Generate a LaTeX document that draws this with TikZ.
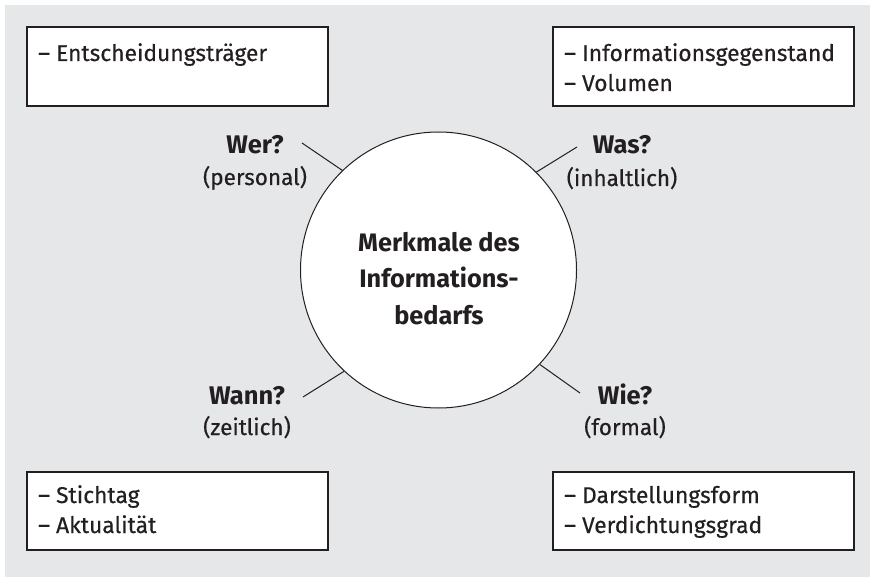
\documentclass[tikz,border=0pt]{standalone}
\usepackage{fontspec}
\setmainfont{Fira Sans}
\newfontfamily\txtfont{Fira Sans}[FakeBold=0.4]
\definecolor{bg}{HTML}{E6E7E9}
\definecolor{ink}{HTML}{231F20}
\begin{document}
\begin{tikzpicture}[x=1pt,y=-1pt,
  infobox/.style={draw=ink,line width=1.3pt,fill=white},
  boxtext/.style={anchor=base west,inner sep=0pt,font=\txtfont\fontsize{22.8}{30}\selectfont,text=ink},
  qhead/.style={anchor=base,inner sep=0pt,text=ink,font=\fontsize{25.5}{30}\selectfont\bfseries},
  qsub/.style={anchor=base,inner sep=0pt,text=ink,font=\txtfont\fontsize{22.5}{30}\selectfont},
  ctext/.style={anchor=base,inner sep=0pt,text=ink,font=\fontsize{25.3}{30}\selectfont\bfseries},
  spoke/.style={draw=ink,line width=1pt}]
\useasboundingbox (0,0) rectangle (870,577);
\fill[bg] (5,5) rectangle (870,577);
% boxes
\draw[infobox] (27,27) rectangle (328,106);
\draw[infobox] (553,27) rectangle (854,106);
\draw[infobox] (27,472) rectangle (328,550);
\draw[infobox] (553,472) rectangle (854,550);
\node[boxtext] (tl1) at (38,61) {– Entscheidungsträger};
\node[boxtext] (tr1) at (564,61) {– Informationsgegenstand};
\node[boxtext] (tr2) at (564,91) {– Volumen};
\node[boxtext] (bl1) at (38,503) {– Stichtag};
\node[boxtext] (bl2) at (38,533) {– Aktualität};
\node[boxtext] (br1) at (564,503) {– Darstellungsform};
\node[boxtext] (br2) at (564,533) {– Verdichtungsgrad};
% circle
\node[circle,draw=ink,line width=1pt,fill=white,minimum size=276pt,inner sep=0pt] (c) at (438.5,270) {};
\node[ctext] (ct1) at (439,252) {Merkmale des};
\node[ctext] (ct2) at (439,288) {Informations-};
\node[ctext] (ct3) at (439,324) {bedarfs};
% labels
\node[qhead] (wer) at (255,154) {Wer?};
\node[qsub] (wers) at (255,185) {(personal)};
\node[qhead] (was) at (622,154) {Was?};
\node[qsub] (wass) at (622,186) {(inhaltlich)};
\node[qhead] (wann) at (247,404) {Wann?};
\node[qsub] (wanns) at (247,435) {(zeitlich)};
\node[qhead] (wie) at (625,404) {Wie?};
\node[qsub] (wies) at (625,435) {(formal)};
% spokes
\coordinate (s1) at (302,143);
\coordinate (s2) at (577,147);
\coordinate (s3) at (303,397);
\coordinate (s4) at (580,393);
\draw[spoke] (s1) -- (c.134);
\draw[spoke] (s2) -- (c.45);
\draw[spoke] (s3) -- (c.227);
\draw[spoke] (s4) -- (c.-43);
\end{tikzpicture}
\end{document}
